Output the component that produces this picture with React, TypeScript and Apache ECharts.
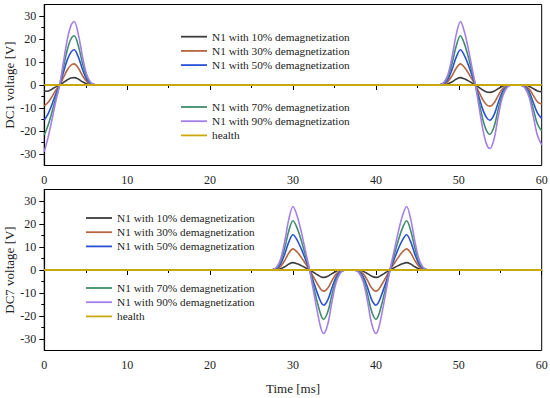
import React, { useEffect, useRef } from "react";
import * as echarts from "echarts";

// ---------- Data ----------
const seriesNames = [
  "N1 with 10% demagnetization",
  "N1 with 30% demagnetization",
  "N1 with 50% demagnetization",
  "N1 with 70% demagnetization",
  "N1 with 90% demagnetization",
  "health",
];
const colors = ["#3d3d3d", "#b5653f", "#2b50d8", "#3f8e6b", "#a47fe6", "#c9a80e"];

const yTickLabels = [-30, -20, -10, 0, 10, 20, 30];
const yMinorTicks = [-25, -15, -5, 5, 15, 25];

// DC1 (top) time stamps [ms]
const t1 = [0, 0.5, 1.0, 1.4, 1.85, 2.3, 2.75, 3.2, 3.6, 4.1, 4.6, 5.1, 5.6, 6.1, 6.6,
  47.2, 47.7, 48.2, 48.7, 49.2, 49.7, 50.2, 50.65, 51.1, 51.55, 52.0, 52.45, 52.9, 53.35, 53.75,
  54.25, 54.75, 55.25, 55.75, 56.25, 56.9, 57.5, 58.0, 58.5, 59.0, 59.5, 60];
const dc1_10 = [-2.7, -2.6, -1.6, -0.8, 0, 1.1, 2.2, 3.0, 3.2, 2.6, 1.4, 0.5, 0.1, 0, 0,
  0, 0, 0.1, 0.5, 1.4, 2.6, 3.2, 2.7, 1.9, 1.0, 0, -1.1, -2.2, -3.0, -3.2,
  -2.7, -1.6, -0.6, -0.2, 0, 0, 0, -0.2, -0.6, -1.6, -2.6, -2.9];
const dc1_30 = [-9.1, -7.4, -4.6, -2.3, 0, 3.2, 6.4, 8.6, 9.2, 7.4, 4.1, 1.6, 0.4, 0, 0,
  0, 0, 0.4, 1.6, 4.1, 7.4, 9.2, 7.8, 5.5, 2.8, 0, -3.2, -6.4, -8.6, -9.2,
  -7.8, -4.6, -1.8, -0.5, 0, 0, 0, -0.5, -1.8, -4.6, -7.4, -8.3];
const dc1_50 = [-15.3, -12.2, -7.7, -3.8, 0, 5.4, 10.7, 14.2, 15.3, 12.2, 6.9, 2.6, 0.6, 0.1, 0,
  0, 0.1, 0.6, 2.6, 6.9, 12.2, 15.3, 13.0, 9.2, 4.6, 0, -5.4, -10.7, -14.2, -15.3,
  -13.0, -7.7, -3.1, -0.8, -0.1, 0, -0.1, -0.8, -3.1, -7.7, -12.2, -14.5];
const dc1_70 = [-21.7, -17.1, -10.7, -5.4, 0, 7.5, 15.0, 19.9, 21.4, 17.1, 9.6, 3.6, 0.9, 0.1, 0,
  0, 0.1, 0.9, 3.6, 9.6, 17.1, 21.4, 18.2, 12.8, 6.4, 0, -7.5, -15.0, -19.9, -21.4,
  -18.2, -10.7, -4.3, -1.1, -0.1, 0, -0.1, -1.1, -4.3, -10.7, -17.1, -20.0];
const dc1_90 = [-29.0, -22.1, -13.8, -6.9, 0, 9.7, 19.3, 25.7, 27.6, 22.1, 12.4, 4.7, 1.1, 0.1, 0,
  0, 0.1, 1.1, 4.7, 12.4, 22.1, 27.6, 23.5, 16.6, 8.3, 0, -9.7, -19.3, -25.7, -27.6,
  -23.5, -13.8, -5.5, -1.4, -0.1, 0, -0.1, -1.4, -5.5, -13.8, -22.1, -26.0];
const dc1_health = [0, 0];
const tHealth = [0, 60];

// DC7 (bottom) time stamps [ms]
const t7 = [0, 27, 27.5, 28, 28.5, 29, 29.5, 30, 30.5, 31, 31.5, 32, 32.5, 33, 33.4, 33.7,
  34.2, 34.7, 35.2, 35.7, 36.2, 36.85, 37.5, 38, 38.5, 39, 39.5, 40, 40.3, 40.7, 41.2, 41.7,
  42.2, 42.7, 43.2, 43.7, 44.2, 44.7, 45.2, 45.7, 46.2, 46.7, 60];
const dc7_10 = [0, 0, 0, 0.1, 0.5, 1.4, 2.6, 3.2, 2.7, 1.9, 1.0, 0, -1.1, -2.2, -3.0, -3.2,
  -2.7, -1.6, -0.6, -0.2, 0, 0, 0, -0.2, -0.6, -1.6, -2.7, -3.2, -3.0, -2.2, -1.1, 0,
  1.0, 1.9, 2.7, 3.2, 2.6, 1.4, 0.5, 0.1, 0, 0, 0];
const dc7_30 = [0, 0, 0, 0.4, 1.6, 4.1, 7.4, 9.2, 7.8, 5.5, 2.8, 0, -3.2, -6.4, -8.6, -9.2,
  -7.8, -4.6, -1.8, -0.5, 0, 0, 0, -0.5, -1.8, -4.6, -7.8, -9.2, -8.6, -6.4, -3.2, 0,
  2.8, 5.5, 7.8, 9.2, 7.4, 4.1, 1.6, 0.4, 0, 0, 0];
const dc7_50 = [0, 0, 0.1, 0.6, 2.6, 6.9, 12.2, 15.3, 13.0, 9.2, 4.6, 0, -5.4, -10.7, -14.2, -15.3,
  -13.0, -7.7, -3.1, -0.8, -0.1, 0, -0.1, -0.8, -3.1, -7.7, -13.0, -15.3, -14.2, -10.7, -5.4, 0,
  4.6, 9.2, 13.0, 15.3, 12.2, 6.9, 2.6, 0.6, 0.1, 0, 0];
const dc7_70 = [0, 0, 0.1, 0.9, 3.6, 9.6, 17.1, 21.4, 18.2, 12.8, 6.4, 0, -7.5, -15.0, -19.9, -21.4,
  -18.2, -10.7, -4.3, -1.1, -0.1, 0, -0.1, -1.1, -4.3, -10.7, -18.2, -21.4, -19.9, -15.0, -7.5, 0,
  6.4, 12.8, 18.2, 21.4, 17.1, 9.6, 3.6, 0.9, 0.1, 0, 0];
const dc7_90 = [0, 0, 0.1, 1.1, 4.7, 12.4, 22.1, 27.6, 23.5, 16.6, 8.3, 0, -9.7, -19.3, -25.7, -27.6,
  -23.5, -13.8, -5.5, -1.4, -0.1, 0, -0.1, -1.4, -5.5, -13.8, -23.5, -27.6, -25.7, -19.3, -9.7, 0,
  8.3, 16.6, 23.5, 27.6, 22.1, 12.4, 4.7, 1.1, 0.1, 0, 0];
const dc7_health = [0, 0];

// ---------- Chart ----------
const FONT = "'Liberation Serif', 'Times New Roman', serif";
const TEXT = "#222";

function pairs(t: number[], v: number[]) {
  return t.map((x, i) => [x, v[i]]);
}

export default function App() {
  const ref = useRef<HTMLDivElement>(null);
  useEffect(() => {
    if (!ref.current) return;
    const chart = echarts.init(ref.current, null, { renderer: "svg" });

    const grids = [
      { left: 44.3, top: 4.5, width: 497.4, height: 161 },
      { left: 44.3, top: 189.5, width: 497.4, height: 161 },
    ].map((g) => ({
      ...g,
      show: true,
      containLabel: false,
      outerBoundsMode: "none",
      borderColor: "#000",
      borderWidth: 1,
      backgroundColor: "transparent",
    }));

    const xAxes: any[] = [0, 1].map((gi) => ({
      type: "value",
      gridIndex: gi,
      min: 0,
      max: 60,
      interval: 10,
      name: gi === 1 ? "Time [ms]" : "",
      nameLocation: "middle",
      nameGap: 31,
      nameMoveOverlap: false,
      nameTextStyle: { fontFamily: FONT, fontSize: 13, color: TEXT },
      axisLine: { show: true, lineStyle: { color: "#000", width: 1.2 } },
      axisTick: { show: true, inside: false, length: 5, lineStyle: { color: "#000", width: 1 } },
      minorTick: { show: true, splitNumber: 2, length: 3, lineStyle: { color: "#000", width: 1 } },
      splitLine: { show: false },
      axisLabel: { fontFamily: FONT, fontSize: 12, color: TEXT, margin: 8 },
    }));

    const yAxes: any[] = [];
    [0, 1].forEach((gi) => {
      yAxes.push({
        type: "value",
        gridIndex: gi,
        min: -35,
        max: 35,
        name: gi === 0 ? "DC1 voltage [V]" : "DC7 voltage [V]",
        nameLocation: "middle",
        nameGap: 28,
        nameMoveOverlap: false,
        nameTextStyle: { fontFamily: FONT, fontSize: 13, color: TEXT },
        axisLine: { show: true, lineStyle: { color: "#000", width: 1.2 } },
        axisTick: { show: true, inside: false, length: 5, customValues: yTickLabels, lineStyle: { color: "#000", width: 1 } },
        splitLine: { show: false },
        axisLabel: { fontFamily: FONT, fontSize: 12, color: TEXT, margin: 8, customValues: yTickLabels },
      });
      yAxes.push({
        type: "value",
        gridIndex: gi,
        position: "left",
        min: -35,
        max: 35,
        axisLine: { show: false },
        axisTick: { show: true, inside: false, length: 3, customValues: yMinorTicks, lineStyle: { color: "#000", width: 1 } },
        splitLine: { show: false },
        axisLabel: { show: false },
      });
    });

    const top = [dc1_10, dc1_30, dc1_50, dc1_70, dc1_90];
    const bot = [dc7_10, dc7_30, dc7_50, dc7_70, dc7_90];
    const series: any[] = [];
    [
      { vals: top, t: t1, health: dc1_health, gi: 0 },
      { vals: bot, t: t7, health: dc7_health, gi: 1 },
    ].forEach(({ vals, t, health, gi }) => {
      vals.forEach((v, i) => {
        series.push({
          type: "line",
          name: seriesNames[i],
          xAxisIndex: gi,
          yAxisIndex: gi * 2,
          data: pairs(t, v),
          smooth: 0.35,
          symbol: "none",
          lineStyle: { color: colors[i], width: 1.6 },
          itemStyle: { color: colors[i] },
          z: 2,
        });
      });
      series.push({
        type: "line",
        name: seriesNames[5],
        xAxisIndex: gi,
        yAxisIndex: gi * 2,
        data: pairs(tHealth, health),
        symbol: "none",
        lineStyle: { color: colors[5], width: 2 },
        itemStyle: { color: colors[5] },
        z: 3,
      });
    });

    const legendBase = {
      orient: "vertical",
      padding: 0,
      icon: "rect",
      itemWidth: 26,
      itemHeight: 1.8,
      itemGap: 0.2,
      selectedMode: false,
      textStyle: { fontFamily: FONT, fontSize: 11.3, color: TEXT, lineHeight: 14, height: 14 },
    };
    const legend = [
      { ...legendBase, left: 181, top: 29.7, data: seriesNames.slice(0, 3) },
      { ...legendBase, left: 181, top: 100, data: seriesNames.slice(3, 6) },
      { ...legendBase, left: 86, top: 211, data: seriesNames.slice(0, 3) },
      { ...legendBase, left: 86, top: 281, data: seriesNames.slice(3, 6) },
    ];

    chart.setOption({
      animation: false,
      backgroundColor: "#fff",
      grid: grids,
      xAxis: xAxes,
      yAxis: yAxes,
      legend,
      series,
    });
    return () => chart.dispose();
  }, []);

  return (
    <div
      ref={ref}
      style={{ position: "fixed", left: 0, top: 0, width: 550, height: 398 }}
    />
  );
}
